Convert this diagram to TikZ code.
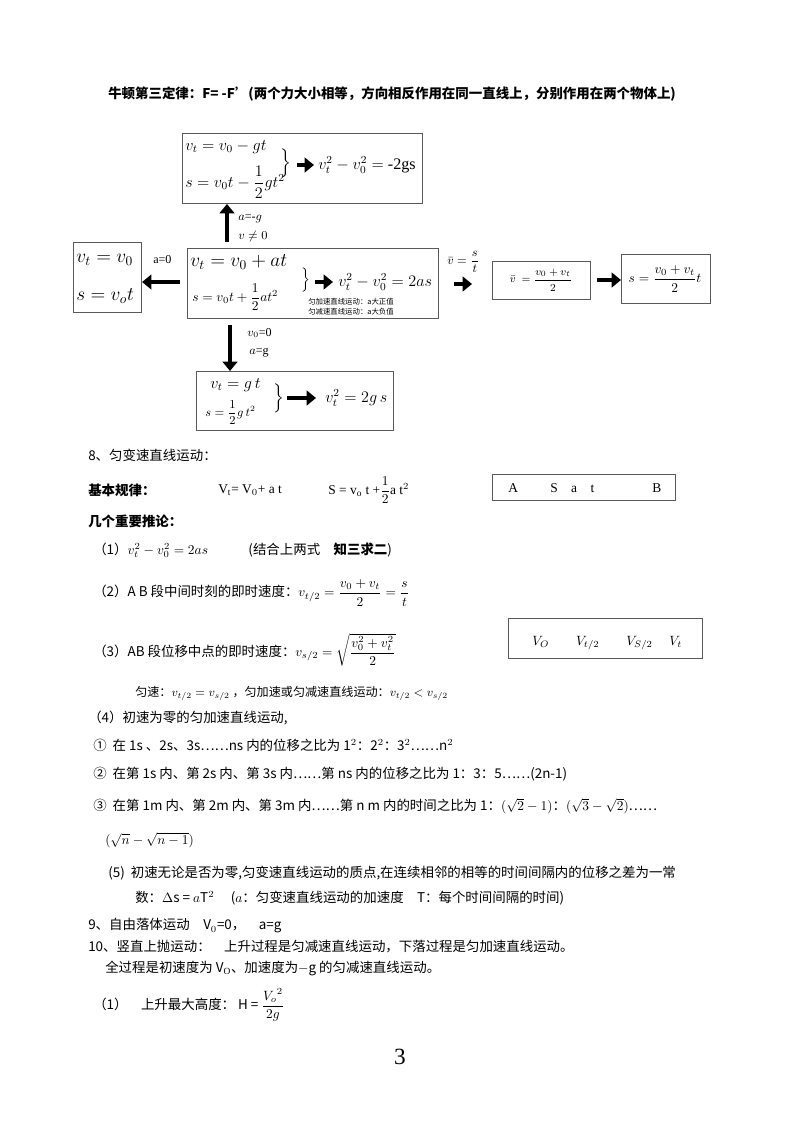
\documentclass[tikz,border=0pt]{standalone}
\usepackage{amsmath}
\usepackage{amssymb}
\usepackage{fontspec}
\setmainfont{Liberation Serif}
\newfontfamily\cjk{Noto Sans CJK SC}
\usetikzlibrary{arrows.meta}
\usetikzlibrary{positioning}

\tikzset{
  box/.style={draw, gray!70!black, thick, text=black, inner sep=0pt, anchor=north west},
  blk/.style={line width=3.5pt, -{Triangle[length=7pt,width=11pt]}},
  txt/.style={anchor=west, inner sep=0pt, font=\cjk\normalsize},
  lab/.style={anchor=west, inner sep=0pt, font=\normalsize},
}

\begin{document}
\begin{tikzpicture}[x=0.744pt, y=-0.744pt]
        \useasboundingbox (0,0) rectangle (800,1132);

        % title line
        \node[txt, font=\cjk\normalsize\bfseries] (title) at (108,94) {牛顿第三定律：F= -F’(两个力大小相等，方向相反作用在同一直线上，分别作用在两个物体上)};

        % diagram boxes
        \node[box, minimum width=178.6pt, minimum height=52pt] (up) at (182,133) {};
        \node[lab, font=\large] at (185,147) {$v_t=v_0-gt$};
        \node[lab, font=\large] at (185,182) {$s=v_0t-\dfrac{1}{2}gt^2$};
        \node[lab, font=\large] at (280,163) {$\Big\}$};
        \coordinate (upa) at (297,165);
        \coordinate (upb) at (314,165);
        \node[lab, font=\large] at (318,165) {$v_t^2-v_0^2=$ -2gs};

        \node[box, minimum width=50.6pt, minimum height=52pt] (left) at (73,242) {};
        \node[lab, font=\Large] at (76,260) {$v_t=v_0$};
        \node[lab, font=\Large] at (76,296) {$s=v_ot$};

        \node[box, minimum width=186.7pt, minimum height=52pt] (mid) at (187,248) {};
        \node[lab, font=\Large] at (190,262) {$v_t=v_0+at$};
        \node[lab] at (192,297) {$s=v_0t+\dfrac{1}{2}at^2$};
        \node[lab] at (301,280) {$\Big\}$};
        \coordinate (mida) at (315,282);
        \coordinate (midb) at (333,282);
        \node[lab, font=\large] at (338,282) {$v_t^2-v_0^2=2as$};
        \node[txt, font=\cjk\fontsize{5.5}{6}\selectfont] at (308,302) {匀加速直线运动：a大正值};
        \node[txt, font=\cjk\fontsize{5.5}{6}\selectfont] at (308,312) {匀减速直线运动：a大负值};

        \node[lab, font=\small] at (447,262) {$\bar v=\dfrac{s}{t}$};
        \coordinate (ra) at (454,284);
        \coordinate (rb) at (472,284);

        \node[box, minimum width=73pt, minimum height=28pt] (avg) at (492,261) {};
        \node[lab, anchor=center, font=\footnotesize] at (541,280) {$\bar v\ =\dfrac{v_0+v_t}{2}$};

        \node[box, minimum width=66pt, minimum height=36.5pt] (dist) at (621,254) {};
        \node[lab, anchor=center] at (665,279) {$s=\dfrac{v_0+v_t}{2}t$};

        \node[box, minimum width=146.6pt, minimum height=44pt] (down) at (196,371) {};
        \node[lab, font=\large] at (210,385) {$v_t=g\,t$};
        \node[lab, font=\small] at (205,413) {$s=\dfrac{1}{2}g\,t^2$};
        \node[lab, font=\large] at (273,398) {$\Big\}$};
        \coordinate (dna) at (287,398);
        \coordinate (dnb) at (316,398);
        \node[lab, font=\large] at (325,398) {$v_t^2=2g\,s$};

        % block arrows
        \coordinate (uparr) at (227,242);
        \draw[blk] (uparr) -- (up.south -| uparr);
        \node[lab, font=\small] at (238,219) {$a$=-$g$};
        \node[lab, font=\small] at (238,236) {$v\neq0$};
        \coordinate (lfarr) at (180,282);
        \draw[blk] (lfarr) -- (left.east |- lfarr);
        \node[lab, font=\small] at (153,260) {a=0};
        \coordinate (dnarr) at (230,325);
        \draw[blk] (dnarr) -- (down.north -| dnarr);
        \node[lab, font=\small] at (247,333) {$v_0$=0};
        \node[lab, font=\small] at (249,353) {$a$=g};
        \draw[blk] (upa) -- (upb);
        \draw[blk] (mida) -- (midb);
        \draw[blk] (dna) -- (dnb);
        \draw[blk] (ra) -- (rb);
        \coordinate (aa) at (597,280);
        \draw[blk] (aa) -- (dist.west |- aa);

        % section 8
        \node[txt] at (88,455) {8、匀变速直线运动：};
        \node[txt, font=\cjk\normalsize\bfseries] at (88,490) {基本规律：};
        \node[lab] at (218,490) {V$_\mathrm{t}$= V$_0$+ a t};
        \node[lab] at (328,490) {S = v$_\mathrm{o}$ t +$\dfrac{1}{2}$a t$^2$};
        \node[box, minimum width=136pt, minimum height=19pt] (ab) at (492,474) {};
        \node[lab] at (508,488) {A};
        \node[lab] at (550,488) {S\quad a\quad t};
        \node[lab] at (652,488) {B};

        \node[txt, font=\cjk\normalsize\bfseries] at (88,521) {几个重要推论：};
        \node[txt] at (93,550) {（1）$v_t^2-v_0^2=2as$\qquad\quad (结合上两式\quad \textbf{知三求二})};
        \node[txt] at (93,593) {（2）A B 段中间时刻的即时速度：$v_{t/2}=\dfrac{v_0+v_t}{2}=\dfrac{s}{t}$};
        \node[txt] at (93,650) {（3）AB 段位移中点的即时速度：$v_{s/2}=\sqrt{\dfrac{v_0^2+v_t^2}{2}}$};
        \node[box, minimum width=144pt, minimum height=30pt] (vv) at (508,618) {};
        \node[lab] at (532,643) {$V_O\qquad V_{t/2}\qquad V_{S/2}\quad\ V_t$};
        \node[txt, font=\cjk\small] at (135,693) {匀速：$v_{t/2}=v_{s/2}$\ ，匀加速或匀减速直线运动：$v_{t/2}<v_{s/2}$};
        \node[txt] at (88,718) {（4）初速为零的匀加速直线运动,};
        \node[txt] at (93,745) {①\ \ 在 1s 、2s、3s……ns 内的位移之比为 1$^2$：2$^2$：3$^2$……n$^2$};
        \node[txt] at (93,774) {②\ \ 在第 1s 内、第 2s 内、第 3s 内……第 ns 内的位移之比为 1：3：5……(2n-1)};
        \node[txt] at (93,806) {③\ \ 在第 1m 内、第 2m 内、第 3m 内……第 n m 内的时间之比为 1：$(\sqrt{2}-1)$：$(\sqrt{3}-\sqrt{2})$……};
        \node[txt] at (105,840) {$(\sqrt{n}-\sqrt{n-1})$};
        \node[txt] at (108,873) {(5)\ \ 初速无论是否为零,匀变速直线运动的质点,在连续相邻的相等的时间间隔内的位移之差为一常};
        \node[txt] at (135,898) {数：$\Delta$s = $a$T$^2$\quad\ ($a$：匀变速直线运动的加速度\quad T：每个时间间隔的时间)};
        \node[txt] at (88,926) {9、自由落体运动\quad V$_0$=0，\quad a=g};
        \node[txt] at (88,947) {10、竖直上抛运动：\quad 上升过程是匀减速直线运动，下落过程是匀加速直线运动。};
        \node[txt] at (105,968) {全过程是初速度为 V$_\mathrm{O}$、加速度为$-$g 的匀减速直线运动。};
        \node[txt] at (93,1005) {（1）\quad 上升最大高度：\ H = $\dfrac{{V_o}^2}{2g}$};

        \node[lab, anchor=center, font=\LARGE] (page) at (400,1057) {3};
      \end{tikzpicture}
\end{document}
